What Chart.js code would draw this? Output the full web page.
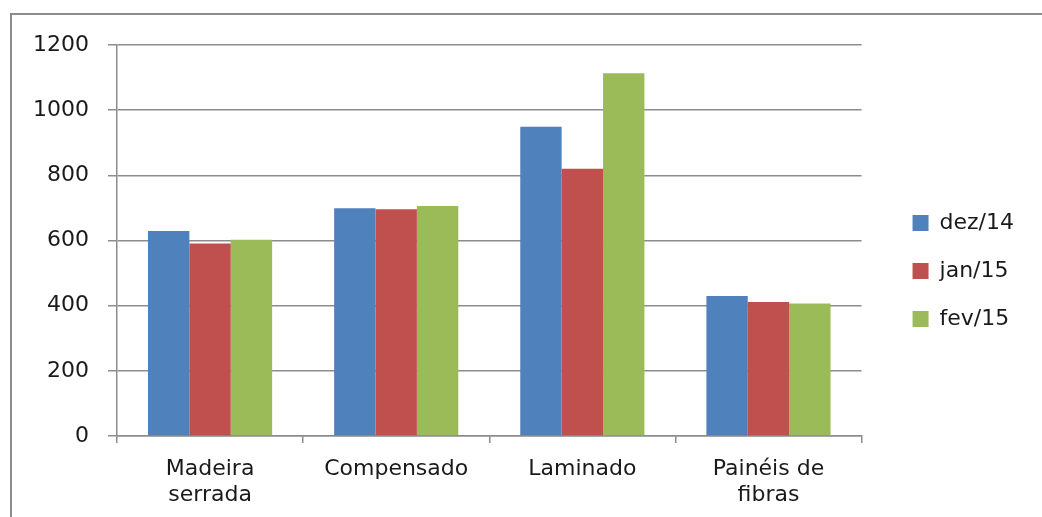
<!DOCTYPE html>
<html>
<head>
<meta charset="utf-8">
<script src="https://cdn.jsdelivr.net/npm/chart.js@4.4.0/dist/chart.umd.min.js"></script>
<style>
  html, body { margin: 0; padding: 0; background: #fff; overflow: hidden; }
  #wrap { position: absolute; left: 0; top: 0; width: 1042px; height: 517px; }
</style>
</head>
<body>
<div id="wrap"><canvas id="bar"></canvas></div>
<script>
const categories = [['Madeira', 'serrada'], 'Compensado', 'Laminado', ['Painéis de', 'fibras']];
const seriesNames = ['dez/14', 'jan/15', 'fev/15'];
const dez14 = [629, 699, 949, 430];
const jan15 = [591, 696, 820, 411];
const fev15 = [602, 706, 1113, 407];
const colors = ['#4F81BD', '#C0504D', '#9BBB59'];

const gridColor = '#8c8c8c';
const font = { family: 'DejaVu Sans', size: 22, lineHeight: 1.15 };

// gray frame on the top and left edges, and x labels allowed to hang below the axis box
const framePlugin = {
  id: 'frame',
  afterLayout(chart) {
    chart.scales.x.bottom = chart.height;
  },
  beforeDraw(chart) {
    const c = chart.ctx;
    c.save();
    c.strokeStyle = gridColor;
    c.lineWidth = 2;
    c.beginPath();
    c.moveTo(11, chart.height);
    c.lineTo(11, 14);
    c.lineTo(chart.width, 14);
    c.stroke();
    c.restore();
  }
};

let config = {
  type: 'bar',
  data: {
    labels: categories,
    datasets: [dez14, jan15, fev15].map((values, i) => ({
      label: seriesNames[i],
      data: values,
      backgroundColor: colors[i],
      categoryPercentage: 0.667,
      barPercentage: 1
    }))
  },
  options: {
    responsive: true,
    maintainAspectRatio: false,
    animation: false,
    layout: { padding: { left: 14, top: 45, right: 18, bottom: 20 } },
    plugins: {
      tooltip: { enabled: false },
      legend: {
        position: 'right',
        labels: {
          boxWidth: 16, boxHeight: 16, padding: 26,
          color: '#1a1a1a', font: font
        }
      }
    },
    scales: {
      x: {
        grid: { offset: true, drawOnChartArea: false, tickLength: 7, color: gridColor, lineWidth: 1.5 },
        border: { color: gridColor, width: 1.5 },
        ticks: { color: '#1a1a1a', font: font, padding: 14, maxRotation: 0 },
        afterFit: (s) => { s.height = 61; }
      },
      y: {
        min: 0, max: 1200,
        grid: { tickLength: 9, color: gridColor, lineWidth: 1.5 },
        border: { color: gridColor, width: 1.5 },
        ticks: { stepSize: 200, color: '#1a1a1a', font: font, padding: 19,
                 callback: (v) => String(v) }
      },
      // empty axis, only keeps a gap between the plot and the legend
      gap: {
        type: 'linear', position: 'right', display: true,
        grid: { display: false }, border: { display: false }, ticks: { display: false },
        afterFit: (s) => { s.width = 25; }
      }
    }
  },
  plugins: [framePlugin]
};

let ctx = document.getElementById('bar').getContext('2d');
window.myBar = new Chart(ctx, config);
</script>
</body>
</html>
